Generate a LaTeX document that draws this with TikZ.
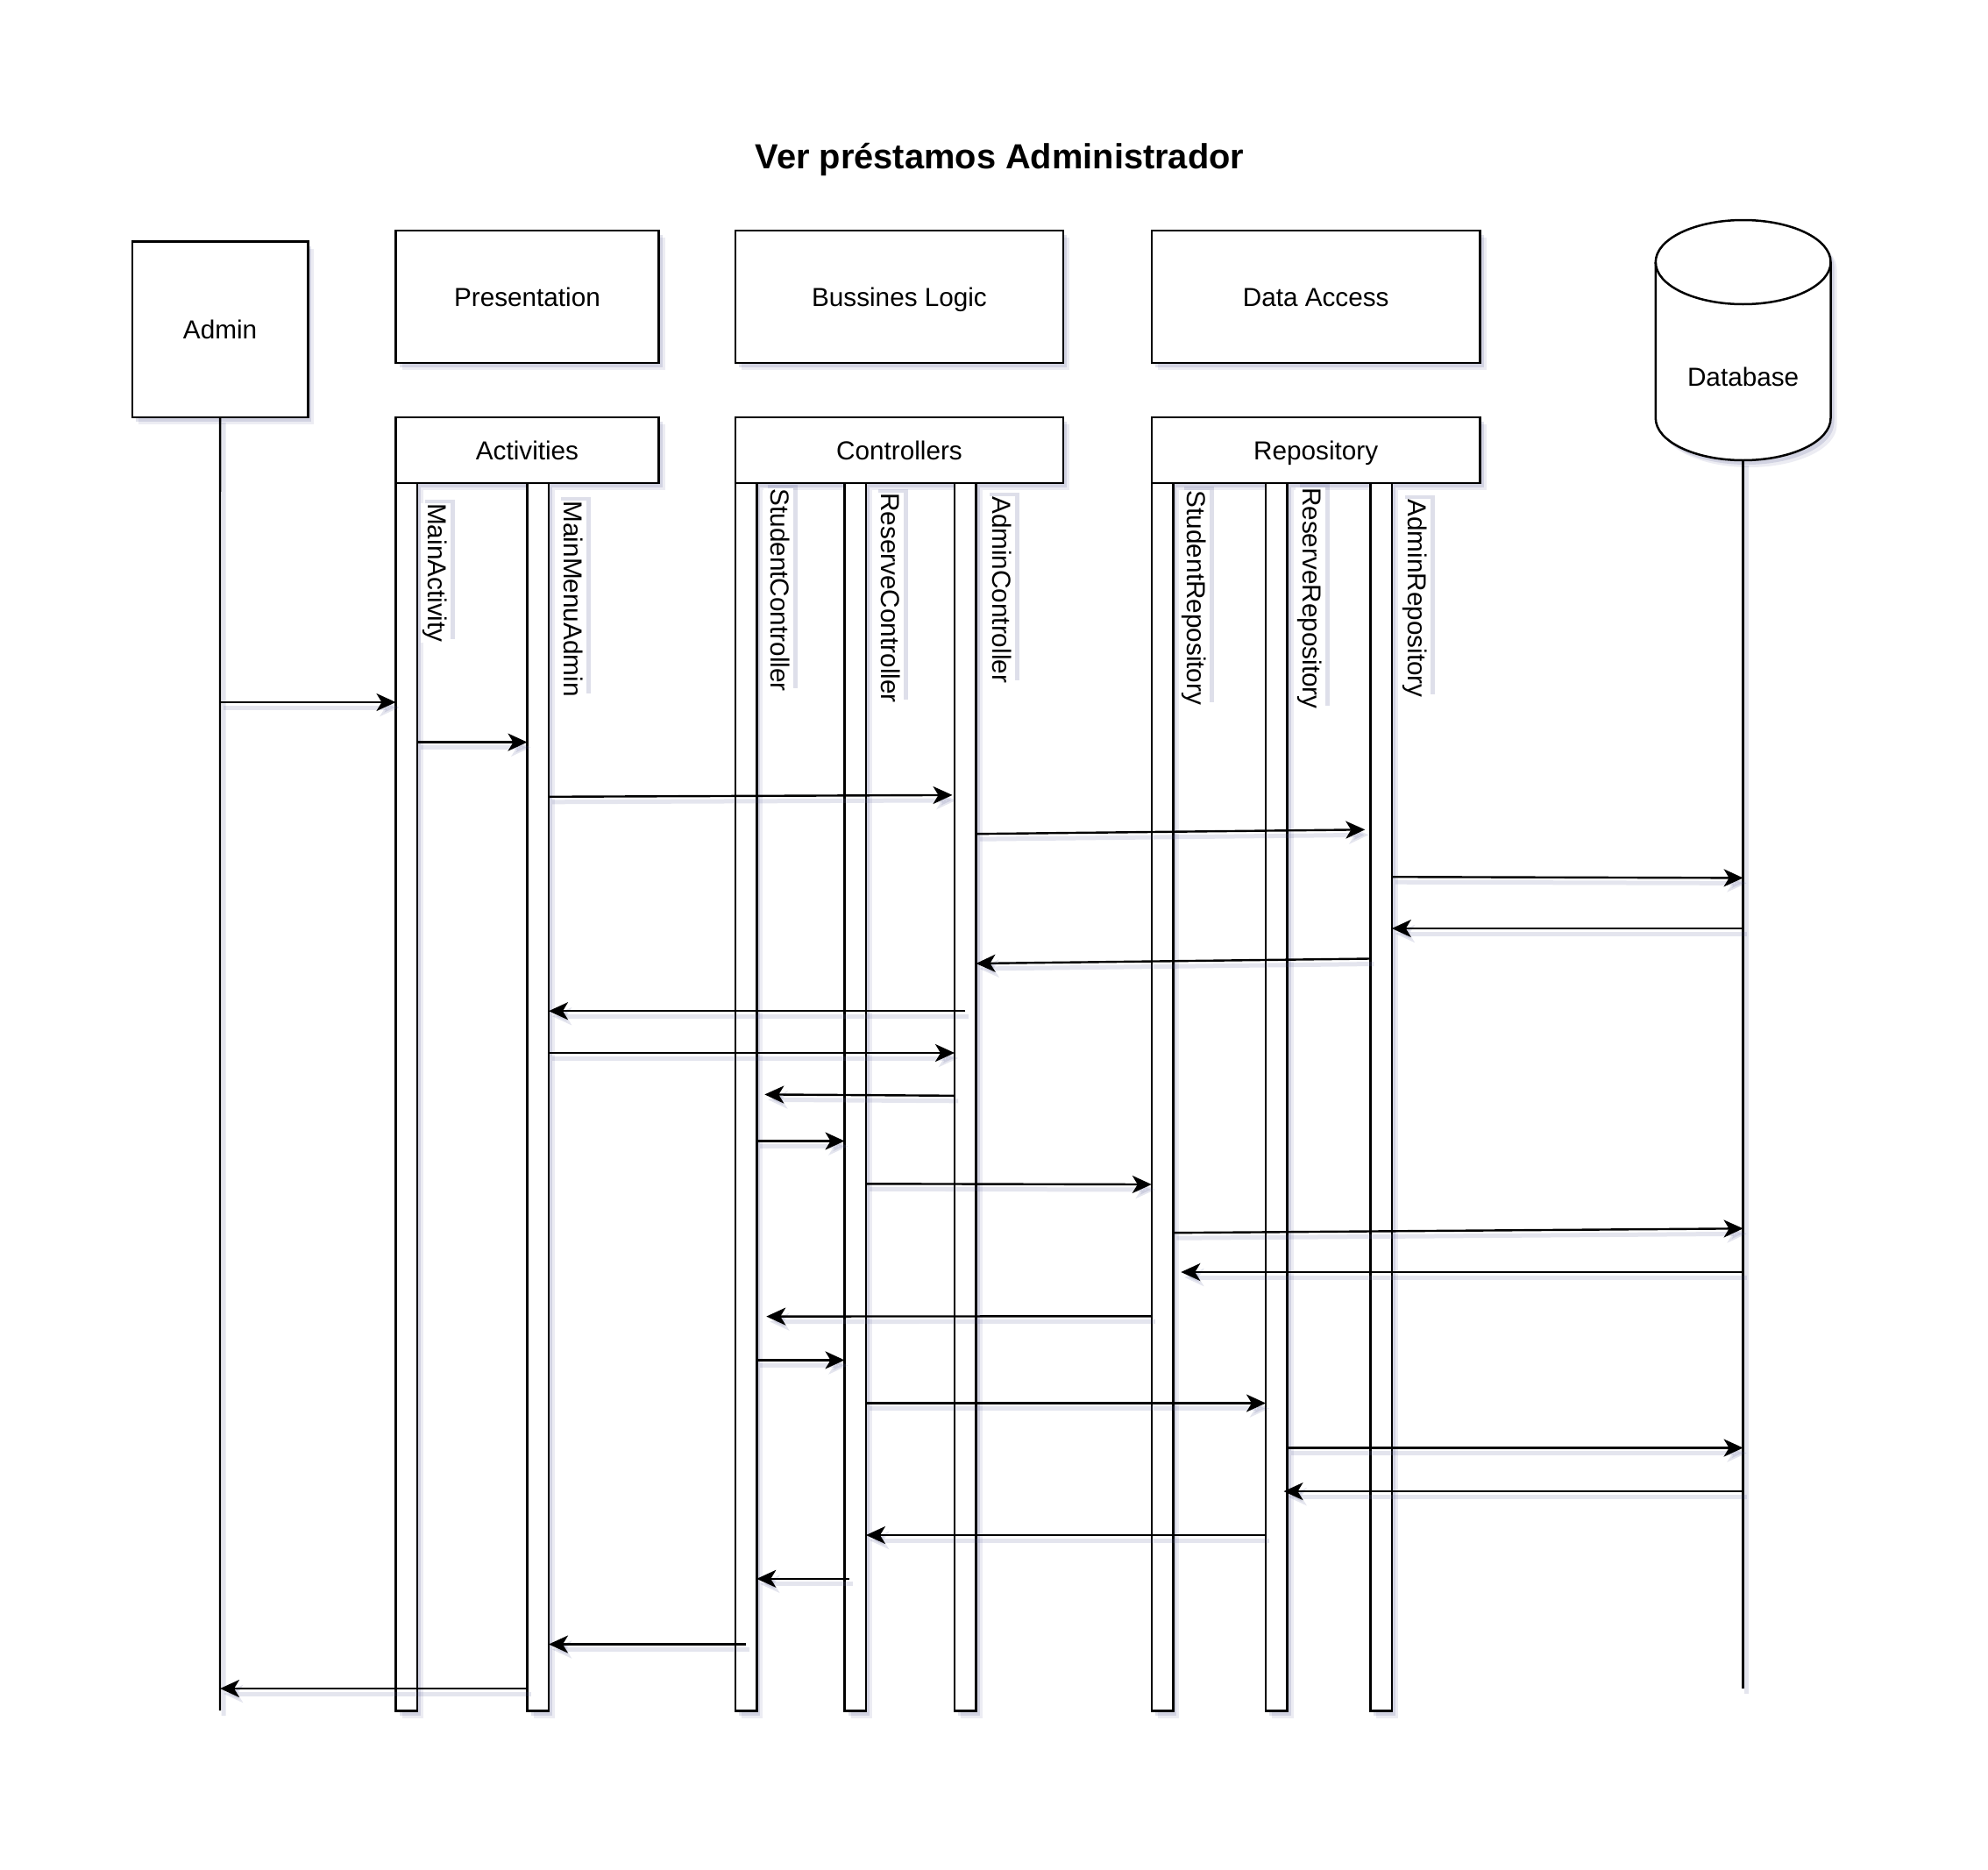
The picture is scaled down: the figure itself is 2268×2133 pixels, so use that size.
\documentclass[tikz,border=0pt]{standalone}
\usepackage{fontspec}
\setmainfont{Liberation Sans}
\usetikzlibrary{arrows.meta,shadows,calc}
\definecolor{shc}{RGB}{105,110,160}
\newcommand\lbfont{\fontsize{29.7}{34}\selectfont}
\begin{document}
\begin{tikzpicture}[x=1pt,y=-1pt,
  sh/.style={drop shadow={shadow xshift=4pt,shadow yshift=-5pt,fill=shc,opacity=0.2},
             drop shadow={shadow xshift=7pt,shadow yshift=-8pt,fill=shc,opacity=0.13}},
  box/.style={draw,line width=2.5pt,fill=white,sh,anchor=north west,inner sep=0pt,outer sep=0pt,font=\lbfont,text height=21.5pt,text depth=0pt},
  bar/.style={draw,line width=2.5pt,fill=white,sh,anchor=north west,inner sep=0pt,outer sep=0pt,minimum width=24.5pt,minimum height=1400.6pt},
  lab/.style={fill=white,rotate=-90,anchor=south west,inner xsep=0.5pt,inner ysep=1.5pt,text height=24pt,text depth=7pt,font=\lbfont,
              drop shadow={shadow xshift=5pt,shadow yshift=4pt,fill=shc,opacity=0.22}},
  lshadow/.style={preaction={draw=shc,opacity=0.18,line width=5pt,transform canvas={xshift=4pt,yshift=-6pt}}},
  msg/.style={line width=2.4pt,-{Stealth[length=22pt,width=20pt,inset=6pt]},lshadow},
  life/.style={line width=2.4pt,lshadow},
]
\useasboundingbox (0,0) rectangle (2268,2133);

% title
\node[font=\bfseries\fontsize{39.8}{46}\selectfont,text height=28.5pt,text depth=0pt,inner sep=0pt] (title) at (1140.6,177.8) {Ver préstamos Administrador};

% top boxes
\node[box,minimum width=200.5pt,minimum height=200.5pt] (admin) at (150.8,275.5) {Admin};
\node[box,minimum width=300pt,minimum height=150.7pt] (pres) at (451.5,263.1) {Presentation};
\node[box,minimum width=374.4pt,minimum height=150.7pt] (bl) at (838.8,263.1) {Bussines Logic};
\node[box,minimum width=374.7pt,minimum height=150.7pt] (da) at (1313.8,263.1) {Data Access};

% database cylinder
\path[draw,line width=2.5pt,fill=white,sh] (1888.8,299) -- (1888.8,477)
  arc[start angle=180,end angle=360,x radius=99.85pt,y radius=48pt] -- (2088.5,299)
  arc[start angle=0,end angle=180,x radius=99.85pt,y radius=48pt] -- cycle;
\draw[line width=2.5pt] (1888.8,299) arc[start angle=180,end angle=360,x radius=99.85pt,y radius=48pt];
\node[font=\lbfont,text height=21.5pt,text depth=0pt,inner sep=0pt] (db) at (1988.6,430) {Database};
\coordinate (dbtop) at (1988.6,524.7);
\coordinate (dbbot) at (1988.6,1926);

% headers
\node[box,minimum width=300pt,minimum height=75pt] (act) at (451.5,476) {Activities};
\node[box,minimum width=374.4pt,minimum height=75pt] (ctl) at (838.8,476) {Controllers};
\node[box,minimum width=374.7pt,minimum height=75pt] (rep) at (1313.8,476) {Repository};

% bars
\node[bar] (ma) at (451.5,551) {};
\node[bar] (mm) at (601.5,551) {};
\node[bar] (sc) at (838.8,551) {};
\node[bar] (rc) at (963.5,551) {};
\node[bar] (ac) at (1089,551) {};
\node[bar] (sr) at (1313.8,551) {};
\node[bar] (rr) at (1444,551) {};
\node[bar] (ar) at (1563.3,551) {};

% labels
\node[lab] (lma) at (479.8,573.5) {MainActivity};
\node[lab] (lmm) at (635,571) {MainMenuAdmin};
\node[lab] (lsc) at (871,556.8) {StudentController};
\node[lab] (lrc) at (996.4,561.6) {ReserveController};
\node[lab] (lac) at (1124,565.5) {AdminController};
\node[lab] (lsr) at (1345.8,559.2) {StudentRepository};
\node[lab] (lrr) at (1477.7,555.4) {ReserveRepository};
\node[lab] (lar) at (1597.6,568.7) {AdminRepository};

% lifelines
\coordinate (admbot) at (251,1951);
\draw[life] (admin.south) -- (admbot);
\draw[life] (dbtop) -- (dbbot);

% messages
\draw[msg] (admin.south |- 0,801) -- (ma.west |- 0,801);
\draw[msg] (ma.east |- 0,846.6) -- (mm.west |- 0,846.6);
\draw[msg] (mm.east |- 0,908.8) -- ($(ac.west |- 0,906.9)+(-2.5,0)$);
\draw[msg] (ac.east |- 0,951.2) -- ($(ar.west |- 0,946.3)+(-6,0)$);
\draw[msg] (ar.east |- 0,1000.2) -- (dbtop |- 0,1001.4);
\draw[msg] (dbtop |- 0,1059) -- (ar.east |- 0,1059);
\draw[msg] (ar.west |- 0,1093.5) -- (ac.east |- 0,1099);
\draw[msg] (ac.center |- 0,1153.2) -- (mm.east |- 0,1153.2);
\draw[msg] (mm.east |- 0,1201) -- (ac.west |- 0,1201);
\draw[msg] (ac.west |- 0,1249.8) -- ($(sc.east |- 0,1248.4)+(9,0)$);
\draw[msg] (sc.east |- 0,1301.5) -- (rc.west |- 0,1301.5);
\draw[msg] (rc.east |- 0,1350.3) -- (sr.west |- 0,1351);
\draw[msg] (sr.east |- 0,1406.2) -- (dbtop |- 0,1401.3);
\draw[msg] (dbtop |- 0,1451) -- ($(sr.east |- 0,1451)+(9,0)$);
\draw[msg] (sr.west |- 0,1501.3) -- ($(sc.east |- 0,1501.6)+(11,0)$);
\draw[msg] (sc.east |- 0,1551.4) -- (rc.west |- 0,1551.4);
\draw[msg] (rc.east |- 0,1600.5) -- (rr.west |- 0,1600.5);
\draw[msg] (rr.east |- 0,1651.5) -- (dbtop |- 0,1651.5);
\draw[msg] (dbtop |- 0,1701.1) -- ($(rr.east |- 0,1701.1)+(-4,0)$);
\draw[msg] (rr.west |- 0,1751) -- (rc.east |- 0,1751);
\draw[msg] ($(rc.west |- 0,1800.8)+(5,0)$) -- (sc.east |- 0,1800.8);
\draw[msg] (sc.center |- 0,1875.5) -- (mm.east |- 0,1875.5);
\draw[msg] (mm.west |- 0,1926) -- (admin.south |- 0,1926);
\end{tikzpicture}
\end{document}
